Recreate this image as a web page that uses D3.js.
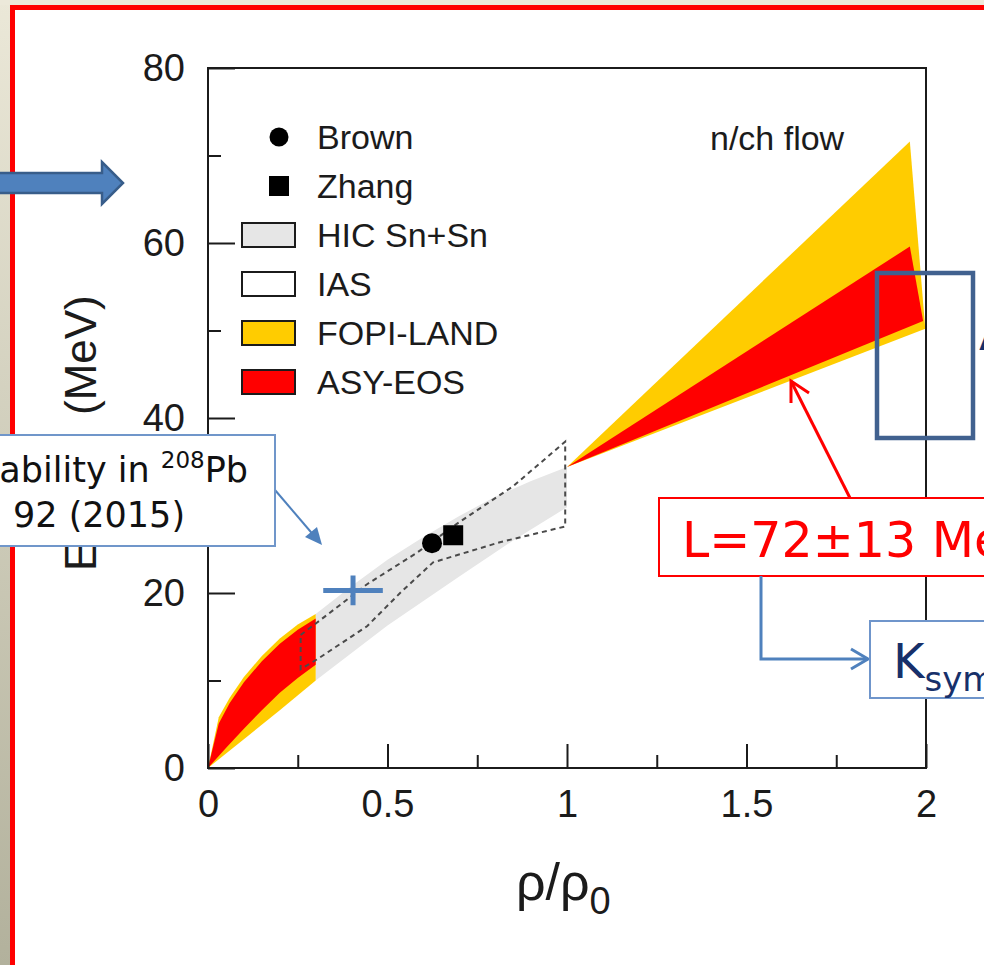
<!DOCTYPE html>
<html>
<head>
<meta charset="utf-8">
<script src="https://cdn.jsdelivr.net/npm/d3@7"></script>
<style>
  body { margin: 0; background: #fff; }
  svg { display: block; }
</style>
</head>
<body>
<svg id="chart" width="984" height="965"></svg>
<script>
// ---- axis ticks ----
const xTicks = [0, 0.5, 1, 1.5, 2];
const xMinorTicks = [0.25, 0.75, 1.25, 1.75];
const yTicks = [0, 20, 40, 60, 80];
const yMinorTicks = [10, 30, 50, 70];

// ---- symmetry-energy constraints, [rho/rho0, Esym (MeV)] ----
// low density, FOPI-LAND / ASY-EOS
const lowFopiUpper = [[0, 0], [0.03, 5.8], [0.06, 8.0], [0.1, 10.4], [0.15, 12.8], [0.2, 14.8], [0.25, 16.4], [0.3, 17.6]];
const lowFopiLower = [[0, 0], [0.1, 3.3], [0.2, 6.6], [0.3, 10.0]];
const lowAsyUpper = [[0, 0], [0.03, 5.1], [0.06, 7.4], [0.1, 9.8], [0.15, 12.2], [0.2, 14.2], [0.25, 15.8], [0.3, 17.1]];
const lowAsyLower = [[0, 0], [0.05, 2.3], [0.1, 4.5], [0.15, 6.6], [0.2, 8.6], [0.25, 10.3], [0.3, 11.8]];
// high density, n/ch flow
const highFopi = [[1.0, 34.4], [1.955, 71.6], [1.998, 50.2]];
const highAsy = [[1.0, 34.4], [1.955, 59.6], [1.992, 51.1]];
// HIC Sn+Sn
const hicUpper = [[0.3, 17.6], [0.4, 20.8], [0.5, 23.8], [0.6, 26.4], [0.7, 28.8], [0.8, 31.0], [0.9, 32.8], [1.0, 34.4]];
const hicLower = [[0.3, 10.0], [0.5, 16.3], [0.7, 21.9], [0.85, 26.0], [1.0, 29.8]];
// IAS contour
const iasUpper = [[0.258, 15.2], [0.303, 16.6], [0.443, 21.0], [0.582, 24.6], [0.693, 27.9], [0.85, 32.2], [0.995, 37.3]];
const iasLower = [[0.258, 11.3], [0.303, 12.4], [0.443, 16.2], [0.535, 20.0], [0.627, 23.5], [0.813, 25.8], [0.995, 27.6]];
// single points
const brownPoint = [0.624, 25.7];
const zhangPoint = [0.683, 26.6];
// dipole polarizability constraint: [rho, Esym, rho error, Esym error]
const polarizability = [0.404, 20.3, 0.083, 1.7];

// ---- legend ----
const legendNames = ["Brown", "Zhang", "HIC Sn+Sn", "IAS", "FOPI-LAND", "ASY-EOS"];
const legendKinds = ["circle", "square", "rect", "rect", "rect", "rect"];

const colors = { fopi: "#ffcc00", asy: "#ff0000", hic: "#e6e6e6", ias: "#ffffff" };
const legendFills = ["#000", "#000", colors.hic, colors.ias, colors.fopi, colors.asy];

const chartFont = "'Liberation Sans', Arial, Helvetica, sans-serif";
const noteFont = "'DejaVu Sans', Verdana, sans-serif";
const ink = "#1b1b1b";

const svg = d3.select("#chart");
const W = 984, H = 965;

// ---- slide background, frame ----
const defs = svg.append("defs");
const grad = defs.append("linearGradient").attr("id", "slideBg")
  .attr("x1", 0).attr("y1", 0).attr("x2", 0).attr("y2", 1);
grad.append("stop").attr("offset", 0).attr("stop-color", "#ebe8d8");
grad.append("stop").attr("offset", 1).attr("stop-color", "#b2b19c");

svg.append("rect").attr("width", W).attr("height", H).attr("fill", "#fff");
svg.append("rect").attr("x", 0).attr("y", 0).attr("width", 11).attr("height", H).attr("fill", "url(#slideBg)");
svg.append("rect").attr("x", 0).attr("y", 0).attr("width", W).attr("height", 5).attr("fill", "#ece9da");
svg.append("path")
  .attr("d", `M12.5,${H + 5} L12.5,7.5 L${W + 5},7.5`)
  .attr("fill", "none").attr("stroke", "#ff0000").attr("stroke-width", 5);

// ---- scales ----
const x = d3.scaleLinear().domain([0, 2]).range([208, 926]);
const y = d3.scaleLinear().domain([0, 80]).range([768, 68]);

const line = d3.line().x(d => x(d[0])).y(d => y(d[1]));
const band = (upper, lower) => line(upper.concat(lower.slice().reverse())) + "Z";

const plot = svg.append("g");

// HIC Sn+Sn band
plot.append("path").attr("d", band(hicUpper, hicLower)).attr("fill", colors.hic);

// low-density bands
plot.append("path").attr("d", band(lowFopiUpper, lowFopiLower)).attr("fill", colors.fopi);
plot.append("path").attr("d", band(lowAsyUpper, lowAsyLower)).attr("fill", colors.asy);

// high-density bands (n/ch flow)
plot.append("path").attr("d", line(highFopi) + "Z").attr("fill", colors.fopi);
plot.append("path").attr("d", line(highAsy) + "Z").attr("fill", colors.asy);

// IAS contour
plot.append("path")
  .attr("d", band(iasUpper, iasLower))
  .attr("fill", "none").attr("stroke", "#4a4a4a").attr("stroke-width", 2)
  .attr("stroke-dasharray", "5,4");

// Brown and Zhang points
plot.append("circle").attr("cx", x(brownPoint[0])).attr("cy", y(brownPoint[1])).attr("r", 10).attr("fill", "#000");
plot.append("rect")
  .attr("x", x(zhangPoint[0]) - 10).attr("y", y(zhangPoint[1]) - 10)
  .attr("width", 20).attr("height", 20).attr("fill", "#000");

// ---- axes ----
const styleAxis = g => {
  g.select(".domain").remove();
  g.selectAll(".tick line").attr("stroke", ink).attr("stroke-width", 2);
  g.selectAll("text").attr("font-family", chartFont).attr("font-size", 38).attr("fill", ink);
};

svg.append("g").attr("transform", "translate(0,768)")
  .call(d3.axisBottom(x).tickValues(xTicks).tickSize(-24).tickPadding(22).tickFormat(d3.format("")))
  .call(styleAxis);
svg.append("g").attr("transform", "translate(0,768)")
  .call(d3.axisBottom(x).tickValues(xMinorTicks).tickSize(-13).tickFormat(""))
  .call(styleAxis);
svg.append("g").attr("transform", "translate(208,0)")
  .call(d3.axisLeft(y).tickValues(yTicks).tickSize(-27).tickPadding(23))
  .call(styleAxis);
svg.append("g").attr("transform", "translate(208,0)")
  .call(d3.axisLeft(y).tickValues(yMinorTicks).tickSize(-13).tickFormat(""))
  .call(styleAxis);

// plot frame
svg.append("rect")
  .attr("x", x(0)).attr("y", y(80))
  .attr("width", x(2) - x(0)).attr("height", y(0) - y(80))
  .attr("fill", "none").attr("stroke", ink).attr("stroke-width", 2);

// axis titles
const xTitle = svg.append("text")
  .attr("x", 516).attr("y", 900)
  .attr("font-family", chartFont).attr("font-size", 52).attr("fill", ink);
xTitle.append("tspan").text("ρ/ρ");
xTitle.append("tspan").attr("font-size", 38).attr("dy", 14).text("0");

const yTitle = svg.append("text")
  .attr("transform", "translate(96,571) rotate(-90)")
  .attr("font-family", chartFont).attr("font-size", 44).attr("fill", ink);
yTitle.append("tspan").text("E");
yTitle.append("tspan").attr("font-size", 30).attr("dy", 9).text("sym");
yTitle.append("tspan").attr("x", 156).attr("dy", -9).text("(MeV)");

// n/ch flow label
svg.append("text").attr("x", 710).attr("y", 150)
  .attr("font-family", chartFont).attr("font-size", 34).attr("fill", ink)
  .text("n/ch flow");

// ---- legend ----
const legend = svg.append("g");
legendNames.forEach((name, i) => {
  const cy = 137 + i * 49;
  const kind = legendKinds[i];
  if (kind === "circle") {
    legend.append("circle").attr("cx", 279).attr("cy", cy).attr("r", 9.5).attr("fill", legendFills[i]);
  } else if (kind === "square") {
    legend.append("rect").attr("x", 269).attr("y", cy - 10).attr("width", 20).attr("height", 20).attr("fill", legendFills[i]);
  } else {
    legend.append("rect").attr("x", 242).attr("y", cy - 12).attr("width", 53).attr("height", 24)
      .attr("fill", legendFills[i]).attr("stroke", ink).attr("stroke-width", 2);
  }
  legend.append("text").attr("x", 317).attr("y", cy + 12)
    .attr("font-family", chartFont).attr("font-size", 34).attr("fill", ink)
    .text(name);
});

// ---- slide annotations ----
const blue = "#4f81bd";

// block arrow at top left
svg.append("path")
  .attr("d", "M-5,173 L102,173 L102,162 L123,183 L102,204 L102,193 L-5,193 Z")
  .attr("fill", blue).attr("stroke", "#385d8a").attr("stroke-width", 2.5);

// dipole polarizability cross
const [pr, pe, prErr, peErr] = polarizability;
const cross = svg.append("g").attr("stroke", blue).attr("stroke-width", 5);
cross.append("line").attr("x1", x(pr - prErr)).attr("x2", x(pr + prErr)).attr("y1", y(pe)).attr("y2", y(pe));
cross.append("line").attr("x1", x(pr)).attr("x2", x(pr)).attr("y1", y(pe - peErr)).attr("y2", y(pe + peErr));

// callout box for the polarizability point
svg.append("line").attr("x1", 275).attr("y1", 490).attr("x2", 316).attr("y2", 538)
  .attr("stroke", blue).attr("stroke-width", 2);
svg.append("path").attr("d", "M322,545 L305,537 L317,527 Z").attr("fill", blue);
svg.append("rect").attr("x", -10).attr("y", 435).attr("width", 285).attr("height", 111)
  .attr("fill", "#fff").attr("stroke", "#7096ca").attr("stroke-width", 2);
const note1 = svg.append("text").attr("x", 248).attr("y", 482).attr("text-anchor", "end")
  .attr("font-family", noteFont).attr("font-size", 35).attr("fill", "#111");
note1.append("tspan").text("ability in ");
note1.append("tspan").attr("font-size", 23).attr("dy", -14).text("208");
note1.append("tspan").attr("dy", 14).text("Pb");
svg.append("text").attr("x", 13).attr("y", 527)
  .attr("font-family", noteFont).attr("font-size", 35).attr("fill", "#111")
  .text("92 (2015)");

// highlight rectangle at 2 rho0
svg.append("rect").attr("x", 877).attr("y", 273).attr("width", 96).attr("height", 165)
  .attr("fill", "none").attr("stroke", "#41618f").attr("stroke-width", 4.5);
svg.append("text").attr("x", 979).attr("y", 350)
  .attr("font-family", noteFont).attr("font-size", 48).attr("fill", "#17306a").text("A");

// slope parameter callout
const red = "#ff0000";
svg.append("line").attr("x1", 850).attr("y1", 498).attr("x2", 791).attr("y2", 381)
  .attr("stroke", red).attr("stroke-width", 3);
svg.append("path").attr("d", "M791,403 L791,381 L809,393")
  .attr("fill", "none").attr("stroke", red).attr("stroke-width", 3);
svg.append("rect").attr("x", 659).attr("y", 498).attr("width", 400).attr("height", 78)
  .attr("fill", "#fff").attr("stroke", red).attr("stroke-width", 2);
svg.append("text").attr("x", 682).attr("y", 557)
  .attr("font-family", noteFont).attr("font-size", 49).attr("fill", red)
  .text("L=72±13 MeV");

// elbow connector to the curvature box
svg.append("path").attr("d", "M761,576 L761,659 L868,659")
  .attr("fill", "none").attr("stroke", blue).attr("stroke-width", 3);
svg.append("path").attr("d", "M851,649 L868,659 L851,669")
  .attr("fill", "none").attr("stroke", blue).attr("stroke-width", 3);
svg.append("rect").attr("x", 870).attr("y", 621).attr("width", 300).attr("height", 77)
  .attr("fill", "#fff").attr("stroke", "#6f95cb").attr("stroke-width", 2);
const kText = svg.append("text").attr("x", 893).attr("y", 678)
  .attr("font-family", noteFont).attr("font-size", 48).attr("fill", "#17306a");
kText.append("tspan").text("K");
kText.append("tspan").attr("font-size", 34).attr("dy", 13).text("sym");
</script>
</body>
</html>
